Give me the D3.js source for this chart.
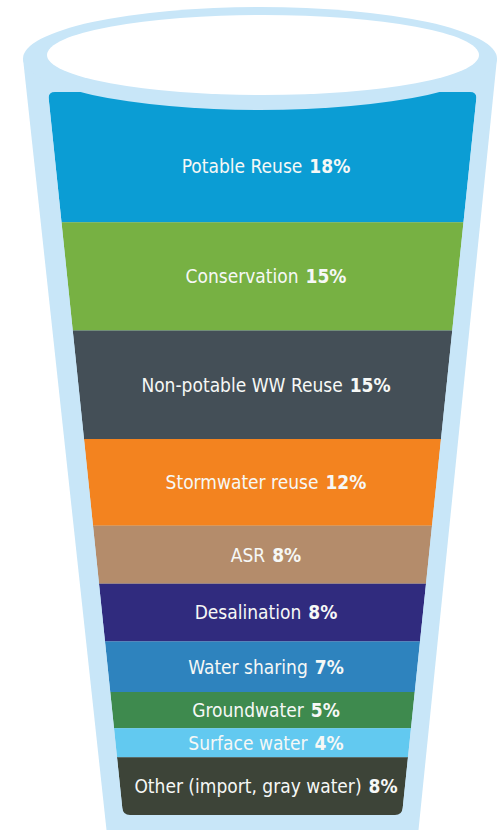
<!DOCTYPE html>
<html>
<head>
<meta charset="utf-8">
<script src="https://cdn.jsdelivr.net/npm/d3@7"></script>
<style>
  html, body { margin: 0; background: #fff; }
  svg { display: block; }
  .lbl { font-family: "DejaVu Sans Condensed", "DejaVu Sans", sans-serif; font-stretch: condensed; font-size: 19px; fill: #f6f8f6; }
</style>
</head>
<body>
<div id="chart"></div>
<script>
const categories = [
  'Potable Reuse', 'Conservation', 'Non-potable WW Reuse', 'Stormwater reuse', 'ASR',
  'Desalination', 'Water sharing', 'Groundwater', 'Surface water', 'Other (import, gray water)'
];
const shares = [18, 15, 15, 12, 8, 8, 7, 5, 4, 8];
const palette = [
  '#0b9dd4', '#77b143', '#444f57', '#f3831f', '#b48c6b',
  '#302b7e', '#2e83be', '#3e8a4e', '#62c9f0', '#3d4438'
];

const W = 497, H = 830;
const glassColor = '#c8e6f8';
const bandTop = 92, bandBottom = 815;
const cx = 262.5;
const rim = { cx: 260, cy: 58.5, rx: 237, ry: 51.5 };
const mouth = { cx: 263, cy: 55, rx: 216, ry: 40 };

const svg = d3.select('#chart').append('svg')
  .attr('width', W)
  .attr('height', H);

// glass walls
const outerHalf = d3.scaleLinear().domain([rim.cy, 830]).range([rim.rx, 156]);
const outerCx = d3.scaleLinear().domain([rim.cy, 830]).range([rim.cx, 262.5]);
const bodyY = [rim.cy, 850];
svg.append('path')
  .attr('d', d3.line()([
    [outerCx(bodyY[0]) - outerHalf(bodyY[0]), bodyY[0]],
    [outerCx(bodyY[0]) + outerHalf(bodyY[0]), bodyY[0]],
    [outerCx(bodyY[1]) + outerHalf(bodyY[1]), bodyY[1]],
    [outerCx(bodyY[1]) - outerHalf(bodyY[1]), bodyY[1]]
  ]) + 'Z')
  .attr('fill', glassColor);

// stacked shares -> vertical position
const row = {};
categories.forEach((c, i) => { row[c] = shares[i]; });
const series = d3.stack().keys(categories)([row]);

const y = d3.scaleLinear()
  .domain([0, d3.sum(shares)])
  .range([bandTop, bandBottom]);
const half = d3.scaleLinear()
  .domain([bandTop, bandBottom])
  .range([214.5, 139.5]);
const color = d3.scaleOrdinal().domain(categories).range(palette);

// rounded outline of the whole liquid, used as clip
const roundPoly = (pts, r) => {
  let d = '';
  pts.forEach((p, i) => {
    const a = pts[(i + pts.length - 1) % pts.length];
    const b = pts[(i + 1) % pts.length];
    const la = Math.hypot(a[0] - p[0], a[1] - p[1]);
    const lb = Math.hypot(b[0] - p[0], b[1] - p[1]);
    const s = [p[0] + (a[0] - p[0]) * r / la, p[1] + (a[1] - p[1]) * r / la];
    const e = [p[0] + (b[0] - p[0]) * r / lb, p[1] + (b[1] - p[1]) * r / lb];
    d += (i === 0 ? 'M' : 'L') + s[0] + ',' + s[1] + 'Q' + p[0] + ',' + p[1] + ' ' + e[0] + ',' + e[1];
  });
  return d + 'Z';
};
svg.append('clipPath').attr('id', 'liquid')
  .append('path')
  .attr('d', roundPoly([
    [cx - half(bandTop), bandTop], [cx + half(bandTop), bandTop],
    [cx + half(bandBottom), bandBottom], [cx - half(bandBottom), bandBottom]
  ], 7));

const bands = svg.append('g').attr('clip-path', 'url(#liquid)');
bands.selectAll('path')
  .data(series)
  .join('path')
  .attr('fill', d => color(d.key))
  .attr('d', d => {
    const y0 = y(d[0][0]), y1 = y(d[0][1]);
    return d3.line()([
      [cx - half(y0), y0], [cx + half(y0), y0],
      [cx + half(y1), y1], [cx - half(y1), y1]
    ]) + 'Z';
  });

// rim of the glass drawn over the liquid
svg.append('ellipse')
  .attr('cx', rim.cx).attr('cy', rim.cy)
  .attr('rx', rim.rx).attr('ry', rim.ry)
  .attr('fill', glassColor);
svg.append('ellipse')
  .attr('cx', mouth.cx).attr('cy', mouth.cy)
  .attr('rx', mouth.rx).attr('ry', mouth.ry)
  .attr('fill', '#fff');

// labels
const rimBottom = rim.cy + rim.ry;
const labels = svg.append('g');
series.forEach((d, i) => {
  const y0 = Math.max(y(d[0][0]), rimBottom), y1 = y(d[0][1]);
  const t = labels.append('text')
    .attr('class', 'lbl')
    .attr('x', 266)
    .attr('y', (y0 + y1) / 2)
    .attr('dy', '0.36em')
    .attr('text-anchor', 'middle');
  t.append('tspan').text(d.key);
  t.append('tspan').attr('dx', 7).attr('font-weight', 'bold').text(shares[i] + '%');
});
</script>
</body>
</html>
